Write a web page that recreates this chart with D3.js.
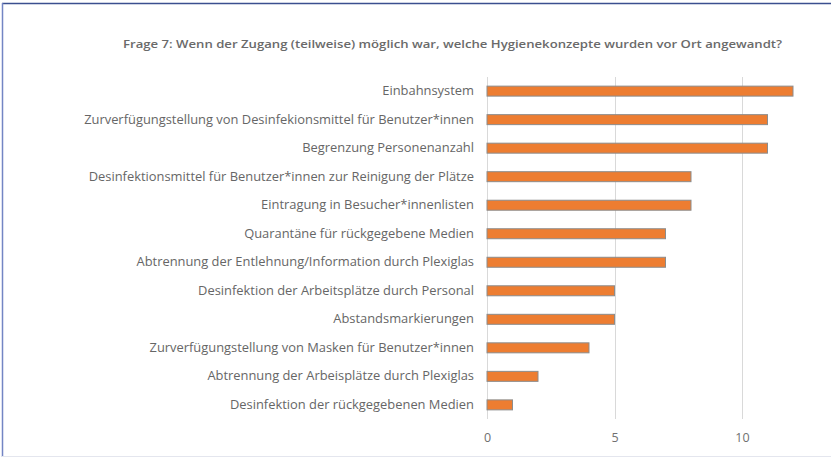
<!DOCTYPE html>
<html>
<head>
<meta charset="utf-8">
<script src="https://cdn.jsdelivr.net/npm/d3@7"></script>
<style>
  body { margin: 0; background: #fff; }
  svg { display: block; }
</style>
</head>
<body>
<svg id="chart" width="831" height="457"></svg>
<script>
const title = "Frage 7: Wenn der Zugang (teilweise) möglich war, welche Hygienekonzepte wurden vor Ort angewandt?";
const categories = [
  "Einbahnsystem",
  "Zurverfügungstellung von Desinfekionsmittel für Benutzer*innen",
  "Begrenzung Personenanzahl",
  "Desinfektionsmittel für Benutzer*innen zur Reinigung der Plätze",
  "Eintragung in Besucher*innenlisten",
  "Quarantäne für rückgegebene Medien",
  "Abtrennung der Entlehnung/Information durch Plexiglas",
  "Desinfektion der Arbeitsplätze durch Personal",
  "Abstandsmarkierungen",
  "Zurverfügungstellung von Masken für Benutzer*innen",
  "Abtrennung der Arbeisplätze durch Plexiglas",
  "Desinfektion der rückgegebenen Medien"
];
const values = [12, 11, 11, 8, 8, 7, 7, 5, 5, 4, 2, 1];
const tickValues = [0, 5, 10];

const svg = d3.select("#chart");
const font = "'Open Sans', Lato, sans-serif";

// frame
svg.append("line").attr("x1", 2).attr("x2", 831).attr("y1", 3.5).attr("y2", 3.5)
  .attr("stroke", "#3b4f8f").attr("stroke-width", 1.5);
svg.append("line").attr("x1", 2.5).attr("x2", 2.5).attr("y1", 3).attr("y2", 457)
  .attr("stroke", "#7385c4").attr("stroke-width", 1.5);
svg.append("line").attr("x1", 2).attr("x2", 831).attr("y1", 456.5).attr("y2", 456.5)
  .attr("stroke", "#e4e6ee").attr("stroke-width", 1);

const x = d3.scaleLinear().domain([0, 12]).range([487, 793]);
const y = d3.scaleBand().domain(categories).range([77, 419]).paddingInner(0.65).paddingOuter(0.32);

// title
svg.append("text")
  .attr("x", 123).attr("y", 48)
  .attr("font-family", font).attr("font-size", 11.5).attr("font-weight", 600)
  .attr("fill", "#6a6a6a")
  .attr("textLength", 659).attr("lengthAdjust", "spacingAndGlyphs")
  .text(title);

// gridlines
svg.append("g").selectAll("line").data(tickValues).join("line")
  .attr("x1", d => Math.round(x(d)) + 0.5).attr("x2", d => Math.round(x(d)) + 0.5)
  .attr("y1", 77).attr("y2", 419)
  .attr("stroke", "#d9d9d9").attr("stroke-width", 1);

// x axis labels
const xAxis = d3.axisBottom(x).tickValues(tickValues).tickSize(0).tickPadding(0);
const gx = svg.append("g").attr("transform", "translate(0,433)").call(xAxis);
gx.select(".domain").remove();
gx.selectAll("text").attr("font-family", font).attr("font-size", 12.5).attr("fill", "#707070");

// category labels
const yAxis = d3.axisLeft(y).tickSize(0).tickPadding(0);
const gy = svg.append("g").attr("transform", "translate(474,0)").call(yAxis);
gy.select(".domain").remove();
gy.selectAll("text").attr("font-family", font).attr("font-size", 12.9).attr("fill", "#666666");

// bars
svg.append("g").selectAll("rect").data(values).join("rect")
  .attr("x", x(0))
  .attr("y", (d, i) => y(categories[i]))
  .attr("width", d => x(d) - x(0))
  .attr("height", y.bandwidth())
  .attr("fill", "#ed7d31")
  .attr("stroke", "#8c8c8c").attr("stroke-width", 1);
</script>
</body>
</html>
